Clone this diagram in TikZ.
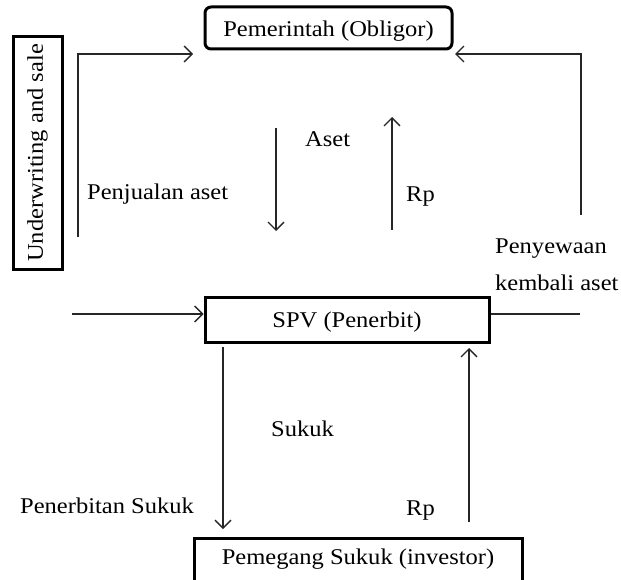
\documentclass[tikz,border=0pt]{standalone}
\usepackage{fontspec}
\setmainfont{Liberation Serif}[FakeStretch=1.09]
\usetikzlibrary{arrows.meta}
\begin{document}
\begin{tikzpicture}[x=1pt,y=-1pt,
  lbl/.style={inner sep=0pt, font=\fontsize{22.5}{27}\selectfont},
  flow/.style={line width=1.3pt, draw=black!85},
  tip/.style={-{Straight Barb[length=8pt,width=16pt,line width=1.3pt]}},
  party/.style={draw, line width=3pt, inner sep=0pt, font=\fontsize{22.5}{27}\selectfont}]
\useasboundingbox (0,0) rectangle (621,580);
\clip (0,0) rectangle (621,580);

% parties
\node[party, rounded corners=6pt, anchor=base, minimum width=247,
      text height=30, text depth=12] (gov) at (328.5,37) {Pemerintah (Obligor)};
\node[party, rotate=90, minimum width=232, minimum height=49] (uw) at (37.5,153) {Underwriting and sale};
\node[party, anchor=base, minimum width=284,
      text height=30, text depth=15] (spv) at (347,327) {SPV (Penerbit)};
\node[party, anchor=base, minimum width=328,
      text height=26, text depth=36] (holder) at (358,564) {Pemegang Sukuk (investor)};

% connector end points
\coordinate (sellA) at (78,237);
\coordinate (sellB) at (193,54);
\coordinate (leaseA) at (581,215);
\coordinate (leaseB) at (455,54);
\coordinate (asetA) at (276,128);
\coordinate (asetB) at (276,231);
\coordinate (rpA) at (392,230);
\coordinate (rpB) at (392,117);
\coordinate (inL) at (72,314);
\coordinate (outR) at (580,314);
\coordinate (sukA) at (223,347);
\coordinate (sukB) at (223,529);
\coordinate (payA) at (469,522);
\coordinate (payB) at (469,348);

% flows
\draw[flow,tip] (sellA) |- (sellB);
\draw[flow,tip] (leaseA) |- (leaseB);
\draw[flow,tip] (asetA) -- (asetB);
\draw[flow,tip] (rpA) -- (rpB);
\draw[flow,tip] (inL) -- (inL -| spv.west);
\draw[flow] (spv.east |- outR) -- (outR);
\draw[flow,tip] (sukA) -- (sukB);
\draw[flow,tip] (payA) -- (payB);

% labels
\node[lbl, anchor=base west] (tAset) at (305,147) {Aset};
\node[lbl, anchor=base west] (tJual) at (87,200) {Penjualan aset};
\node[lbl, anchor=base west] (tRp1) at (406,202) {Rp};
\node[lbl, anchor=base west] (tSewa1) at (495,253) {Penyewaan};
\node[lbl, anchor=base west] (tSewa2) at (495,290) {kembali aset};
\node[lbl, anchor=base west] (tSukuk) at (271,436) {Sukuk};
\node[lbl, anchor=base west] (tTerbit) at (20,513) {Penerbitan Sukuk};
\node[lbl, anchor=base west] (tRp2) at (406,515) {Rp};
\end{tikzpicture}
\end{document}
